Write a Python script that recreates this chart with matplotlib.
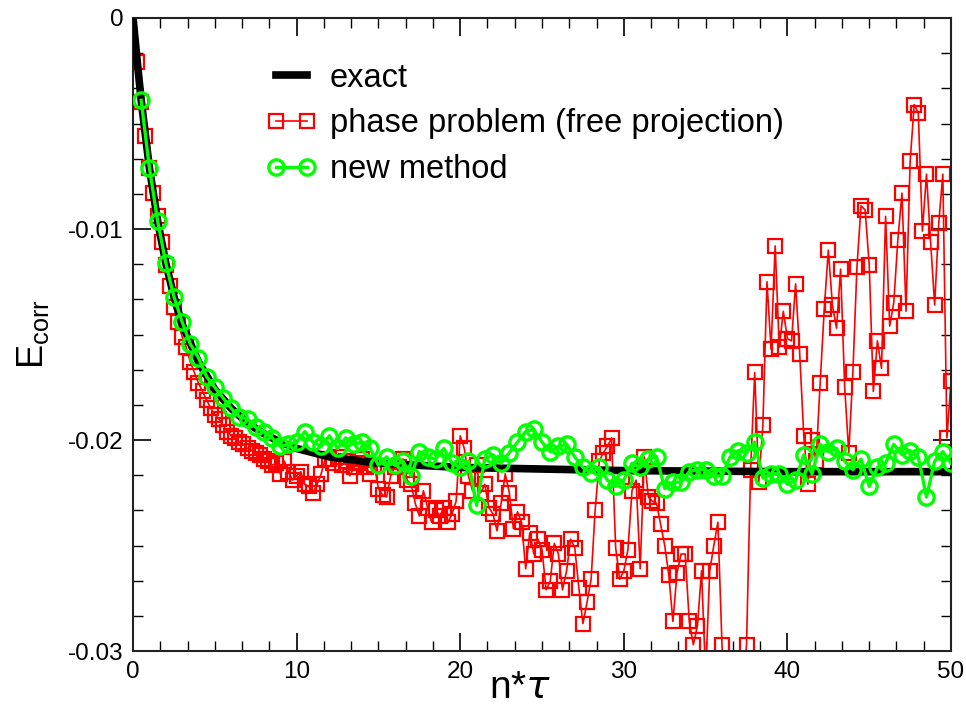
import numpy as np
import matplotlib
matplotlib.use('Agg')
import matplotlib.pyplot as plt
from matplotlib.ticker import MultipleLocator, FuncFormatter

plt.rcParams['font.family'] = ['Liberation Sans', 'DejaVu Sans']
plt.rcParams['mathtext.fontset'] = 'custom'
plt.rcParams['mathtext.rm'] = 'Liberation Sans'
plt.rcParams['axes.unicode_minus'] = False

# exact curve
exact_x = [0, 0.25, 0.5, 1, 1.5, 2, 2.5, 3, 4, 5, 6, 7, 8, 9, 10, 12, 15, 20, 30, 40, 50]
exact_y = [0, -0.0020, -0.0039, -0.0071, -0.0096, -0.0116, -0.0132, -0.0145, -0.0163,
           -0.0176, -0.0185, -0.0192, -0.0197, -0.0201, -0.0204, -0.0208, -0.0211,
           -0.0213, -0.02145, -0.0215, -0.0215]

# phase problem (free projection), step 0.25
phase_x = np.arange(1, 201) * 0.25
phase_y = [
    -0.0021, -0.0040, -0.0056, -0.0071,
    -0.0083, -0.0094, -0.0106, -0.0117,
    -0.0127, -0.0137, -0.0144, -0.0151,
    -0.0156, -0.0163, -0.0168, -0.0173,
    -0.0177, -0.0181, -0.0185, -0.0188,
    -0.0190, -0.0193, -0.0196, -0.0198,
    -0.0199, -0.0201, -0.0202, -0.0204,
    -0.0205, -0.0206, -0.0207, -0.0209,
    -0.0210, -0.0212, -0.0211, -0.0216,
    -0.0210, -0.0215, -0.0219, -0.0217,
    -0.0215, -0.0221, -0.0222, -0.0225,
    -0.0221, -0.0216, -0.0209, -0.0209,
    -0.0211, -0.0208, -0.0212, -0.0210,
    -0.0217, -0.0213, -0.0211, -0.0209,
    -0.0213, -0.0216, -0.0212, -0.0223,
    -0.0226, -0.0227, -0.0217, -0.0213,
    -0.0213, -0.0209, -0.0219, -0.0221,
    -0.0230, -0.0236, -0.0224, -0.0232,
    -0.0239, -0.0233, -0.0236, -0.0232,
    -0.0239, -0.0235, -0.0229, -0.0198,
    -0.0204, -0.0217, -0.0224, -0.0212,
    -0.0225, -0.0221, -0.0232, -0.0235,
    -0.0243, -0.0230, -0.0216, -0.0225,
    -0.0242, -0.0234, -0.0239, -0.0261,
    -0.0244, -0.0254, -0.0247, -0.0252,
    -0.0271, -0.0267, -0.0249, -0.0254,
    -0.0271, -0.0262, -0.0247, -0.0251,
    -0.0270, -0.0287, -0.0277, -0.0266,
    -0.0233, -0.0210, -0.0206, -0.0203,
    -0.0199, -0.0251, -0.0266, -0.0262,
    -0.0252, -0.0224, -0.0219, -0.0261,
    -0.0208, -0.0227, -0.0229, -0.0230,
    -0.0240, -0.0250, -0.0264, -0.0286,
    -0.0263, -0.0254, -0.0254, -0.0286,
    -0.0297, -0.0288, -0.0262, -0.0312,
    -0.0262, -0.0250, -0.0239, -0.0297,
    -0.0330, -0.0345, -0.0335, -0.0340,
    -0.0320, -0.0297, -0.0214, -0.0168,
    -0.0220, -0.0193, -0.0125, -0.0157,
    -0.0108, -0.0156, -0.0139, -0.0152,
    -0.0153, -0.0126, -0.0159, -0.0198,
    -0.0221, -0.0200, -0.0210, -0.0173,
    -0.0138, -0.0110, -0.0136, -0.0147,
    -0.0119, -0.0175, -0.0206, -0.0168,
    -0.0118, -0.0089, -0.0091, -0.0117,
    -0.0177, -0.0153, -0.0166, -0.0094,
    -0.0146, -0.0135, -0.0105, -0.0083,
    -0.0139, -0.0068, -0.0041, -0.0045,
    -0.0101, -0.0074, -0.0106, -0.0136,
    -0.0097, -0.0074, -0.0199, -0.0172,
]

# new method, step 0.5
new_x = np.arange(1, 101) * 0.5
new_y = [
    -0.0039, -0.0071, -0.0096, -0.0116, -0.0132, -0.0144, -0.01545, -0.0161, -0.0170, -0.0175,
    -0.0180, -0.0185, -0.0189, -0.0190, -0.0194, -0.0196, -0.0199, -0.0203, -0.0202, -0.0201,
    -0.0196, -0.0201, -0.0203, -0.0198, -0.0204, -0.0199, -0.0202, -0.0201, -0.0204, -0.0212,
    -0.0208, -0.0212, -0.0210, -0.0217, -0.02055, -0.0208, -0.0209, -0.0204, -0.0211, -0.0213,
    -0.0210, -0.0231, -0.0209, -0.0207, -0.0211, -0.0206, -0.0201, -0.0196, -0.0195, -0.0201,
    -0.02055, -0.0203, -0.0202, -0.0208, -0.0213, -0.02155, -0.0213, -0.0219, -0.0222, -0.0219,
    -0.0211, -0.0213, -0.0209, -0.0208, -0.0223, -0.0220, -0.0220, -0.0215, -0.0214, -0.0214,
    -0.0217, -0.0217, -0.0208, -0.0205, -0.0206, -0.0201, -0.0218, -0.0216, -0.0216, -0.0221,
    -0.0219, -0.0207, -0.0216, -0.0202, -0.02055, -0.0204, -0.0210, -0.0214, -0.0209, -0.0222,
    -0.0213, -0.0211, -0.0202, -0.0207, -0.0205, -0.0208, -0.0227, -0.0210, -0.02055, -0.0211,
]

fig = plt.figure(figsize=(9.66, 7.2), dpi=100)
ax = fig.add_axes([0.1377, 0.0958, 0.8468, 0.8792])

ax.plot(phase_x, phase_y, color='red', lw=1.2, marker='s', ms=10, mfc='none',
        mec='red', mew=1.6, zorder=2, label='phase problem (free projection)')
ax.plot(exact_x, exact_y, color='black', lw=5.5, zorder=3, label='exact')
ax.plot(new_x, new_y, color='#00ff00', lw=2.4, marker='o', ms=11, mfc='none',
        mec='#00ff00', mew=2.4, zorder=4, label='new method')

ax.set_xlim(0, 50)
ax.set_ylim(-0.03, 0)
ax.xaxis.set_major_locator(MultipleLocator(10))
ax.xaxis.set_minor_locator(MultipleLocator(10 / 6))
ax.yaxis.set_major_locator(MultipleLocator(0.01))
ax.yaxis.set_minor_locator(MultipleLocator(0.01 / 6))
ax.yaxis.set_major_formatter(FuncFormatter(lambda v, p: '0' if abs(v) < 1e-9 else '%.2f' % v))
ax.tick_params(which='both', direction='in', top=True, right=True, labelsize=17.5)
ax.tick_params(which='major', length=13, width=1.2, pad=7)
ax.tick_params(which='minor', length=7, width=1.0)
for s in ax.spines.values():
    s.set_linewidth(1.5)
    s.set_color('#222222')

ax.set_xlabel(r'n*$\tau$', fontsize=28)
ax.xaxis.set_label_coords(0.473, -0.03)
ax.set_ylabel(r'E$_{\rm corr}$', fontsize=26, labelpad=12)

h, l = ax.get_legend_handles_labels()
order = [1, 0, 2]
ax.legend([h[i] for i in order], [l[i] for i in order], loc='upper left',
          bbox_to_anchor=(0.147, 0.95), frameon=False, fontsize=23.5, numpoints=2,
          handlelength=1.55, handletextpad=0.4, labelspacing=0.45, borderaxespad=0)

fig.savefig('out.png', dpi=100)
